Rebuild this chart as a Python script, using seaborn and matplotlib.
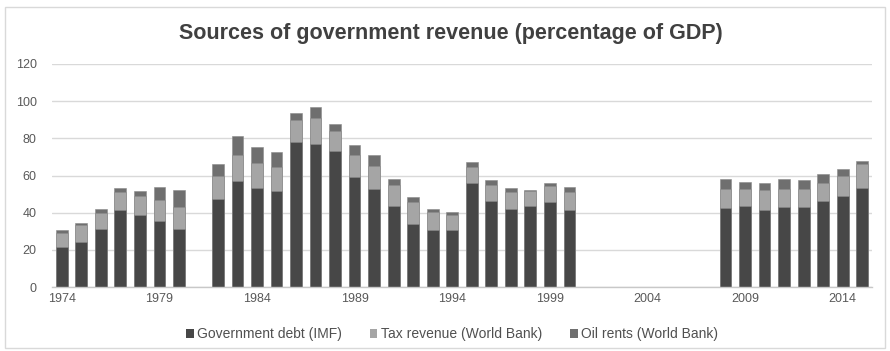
import numpy as np
import pandas as pd
import matplotlib
matplotlib.use("Agg")
import matplotlib.pyplot as plt
import seaborn as sns
from matplotlib.patches import Rectangle, Patch

nan = np.nan
years = list(range(1974, 2016))
debt = [21.3, 24.2, 31.0, 41.2, 38.5, 35.5, 31.0, nan,
        47.5, 57.2, 53.4, 51.4, 78.0, 77.1, 73.1, 59.3, 53.0, 43.7, 34.0, 30.9,
        30.5, 55.9, 46.3, 42.0, 43.8, 45.9, 41.4,
        nan, nan, nan, nan, nan, nan, nan,
        42.5, 43.4, 41.6, 43.0, 43.0, 46.1, 49.1, 53.4]
tax = [7.7, 9.1, 9.0, 9.8, 10.6, 11.5, 12.0, nan,
       12.0, 13.6, 13.4, 13.3, 12.0, 13.8, 10.9, 12.0, 12.2, 11.3, 11.9, 9.3,
       8.4, 8.7, 8.5, 9.1, 8.0, 8.4, 9.5,
       nan, nan, nan, nan, nan, nan, nan,
       10.0, 9.6, 10.6, 9.7, 9.5, 10.0, 10.8, 12.9]
oil = [1.9, 1.3, 2.1, 2.4, 2.3, 6.9, 9.3, nan,
       6.5, 10.2, 8.5, 7.9, 3.4, 6.1, 3.6, 4.9, 5.6, 2.9, 2.3, 1.6,
       1.6, 2.4, 2.9, 2.1, 0.5, 1.6, 3.0,
       nan, nan, nan, nan, nan, nan, nan,
       5.6, 3.3, 3.5, 5.4, 5.0, 4.7, 3.4, 1.4]
series_names = ["Government debt (IMF)", "Tax revenue (World Bank)", "Oil rents (World Bank)"]
colors = ["#474747", "#a5a5a5", "#6f6f6f"]
tick_years = ["1974", "1979", "1984", "1989", "1994", "1999", "2004", "2009", "2014"]

df = pd.DataFrame({"year": [str(y) for y in years], "debt": debt, "tax": tax, "oil": oil})
df["l1"] = df["debt"]
df["l2"] = df["debt"] + df["tax"]
df["l3"] = df["debt"] + df["tax"] + df["oil"]
order = [str(y) for y in years]

sns.set_theme(style="white")
plt.rcParams["font.family"] = ["Liberation Sans", "DejaVu Sans"]

fig = plt.figure(figsize=(8.9, 3.51), dpi=100)
ax = fig.add_axes([52/890, 1-287/351, (872-52)/890, (287-64)/351])

for col, c in zip(["l3", "l2", "l1"], [colors[2], colors[1], colors[0]]):
    sns.barplot(data=df, x="year", y=col, order=order, color=c, width=0.6,
                saturation=1, edgecolor="#8a8a8a", linewidth=0.4, ax=ax, errorbar=None)

ax.set_ylim(0, 120)
ax.set_yticks(range(0, 121, 20))
ax.set_xlim(-0.5, len(order) - 0.5)
ax.set_xticks([order.index(t) for t in tick_years])
ax.set_xticklabels(tick_years)
ax.set_xlabel("")
ax.set_ylabel("")
ax.yaxis.grid(True, color="#d9d9d9", linewidth=1.0)
ax.set_axisbelow(True)
for s in ["top", "right", "left"]:
    ax.spines[s].set_visible(False)
ax.spines["bottom"].set_color("#c8c8c8")
ax.spines["bottom"].set_linewidth(1.0)
ax.tick_params(axis="both", length=0, labelsize=9, labelcolor="#595959")
ax.tick_params(axis="y", pad=11)
ax.tick_params(axis="x", pad=4)

fig.text(0.507, 1-33/351, "Sources of government revenue (percentage of GDP)",
         ha="center", va="center", fontsize=15.5, fontweight="bold", color="#404040")

handles = [Patch(facecolor=c, edgecolor="none") for c in colors]
fig.legend(handles, series_names, loc="center", bbox_to_anchor=(452/890, 1-334/351),
           ncol=3, frameon=False, fontsize=10, handlelength=0.55, handleheight=0.6,
           handletextpad=0.25, columnspacing=2.0, labelcolor="#505050")

fig.patches.append(Rectangle((5/890, 3/351), 880/890, 341/351, transform=fig.transFigure,
                             fill=False, edgecolor="#d9d9d9", linewidth=1.0))

fig.savefig("out.png", dpi=100)
